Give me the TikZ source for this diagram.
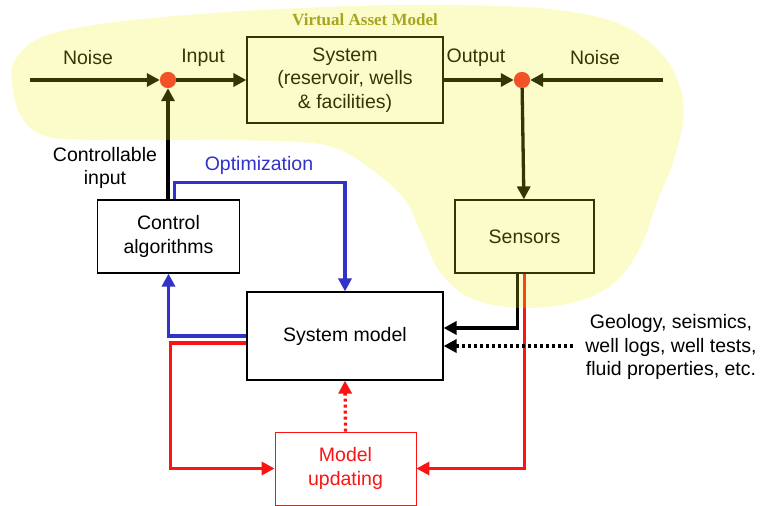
\documentclass[tikz,border=0pt]{standalone}
\usepackage{fontspec}
\setmainfont{Liberation Sans}
\newfontfamily\titlefont{Liberation Serif}
\usetikzlibrary{arrows.meta,calc}
\definecolor{blobc}{RGB}{240,240,20}
\definecolor{dotc}{RGB}{242,82,38}
\definecolor{titlec}{RGB}{165,165,30}
\definecolor{blu}{RGB}{50,50,200}
\definecolor{rd}{RGB}{250,20,20}
\tikzset{
  box/.style={draw=black, line width=1.2pt, align=center, inner sep=0pt, font=\fontsize{19.5}{23.5}\selectfont},
  lbl/.style={align=center, inner sep=0pt, font=\fontsize{19.5}{23.5}\selectfont},
  arr/.style={line width=3.3pt, -{Triangle[length=13pt,width=13pt]}},
  arrB/.style={arr, draw=blu, color=blu},
  arrR/.style={arr, draw=rd, color=rd},
  dotted3/.style={dash pattern=on 3pt off 3pt},
  sumdot/.style={circle, fill=dotc, minimum size=16pt, inner sep=0pt}
}
\begin{document}
\begin{tikzpicture}[x=1pt,y=-1pt]
\useasboundingbox (0,0) rectangle (761,506);
% nodes
\node[box, minimum width=196pt, minimum height=86pt] (sys) at (345,80) {System\\(reservoir, wells\\\& facilities)};
\node[box, minimum width=142pt, minimum height=73pt] (ctrl) at (168.5,236.5) {Control\\algorithms};
\node[box, minimum width=139pt, minimum height=73pt] (sens) at (524.5,236.5) {Sensors};
\node[box, minimum width=196pt, minimum height=88pt] (sm) at (345,336) {System model};
\node[box, draw=rd, text=rd, line width=0.8pt, minimum width=141pt, minimum height=73pt] (mu) at (345.5,468.5) {Model\\updating};
\node[sumdot] (cL) at (168,80) {};
\node[sumdot] (cR) at (522,80) {};
\coordinate (noiseL) at (30,80);
\coordinate (noiseR) at (663,80);
\coordinate (geo) at (573,346);
% labels
\node[lbl] (lnoiseL) at (88,58) {Noise};
\node[lbl] (linput) at (203,58) {Input};
\node[lbl] (loutput) at (476,58) {Output};
\node[lbl] (lnoiseR) at (595,58) {Noise};
\node[lbl] (lctrl) at (105,168) {Controllable\\input};
\node[lbl, text=blu] (lopt) at (259,165) {Optimization};
\node[lbl] (lgeo) at (671,347) {Geology, seismics,\\well logs, well tests,\\fluid properties, etc.};
% connectors
\draw[arr] (noiseL) -- (cL);
\draw[arr] (cL) -- (sys);
\draw[arr] (sys) -- (cR);
\draw[arr] (noiseR) -- (cR);
\draw[arr] (cR) -- (sens);
\draw[arr] (ctrl.north -| cL) -- (cL);
\draw[arrB] ([xshift=6pt]ctrl.north) -- ++(0,-17) -| (sm.north);
\draw[arrB] (sm.west) -| (ctrl.south);
\draw[arrR] ([yshift=-7pt]sm.west) -- ++(-76,0) |- (mu.west);
\draw[arrR, dotted3] (mu.north) -- (sm.south);
\draw[arr] ([xshift=-7pt]sens.south) |- ([yshift=8pt]sm.east);
\draw[arrR] (sens.south) |- (mu.east);
\draw[arr, dotted3] (geo) -- ([yshift=-10pt]sm.east);
% virtual asset blob (overlay)
\fill[blobc, fill opacity=0.22] plot[smooth cycle, tension=0.6] coordinates {
 (14,62) (40,38) (100,24) (200,14) (300,8) (400,5) (500,6) (565,11) (620,24) (660,52) (680,87) (683,122) (672,165) (657,202) (640,248) (614,283) (575,302) (520,308) (470,298) (440,272) (422,235) (405,200) (375,172) (340,150) (300,142) (200,140) (100,140) (45,136) (22,118) (13,90)};
\node[sumdot] at (cL) {};
\node[sumdot] at (cR) {};
\node[text=titlec, font=\titlefont\bfseries\fontsize{17}{20}\selectfont, inner sep=0pt] (title) at (365,20) {Virtual Asset Model};
\end{tikzpicture}
\end{document}
